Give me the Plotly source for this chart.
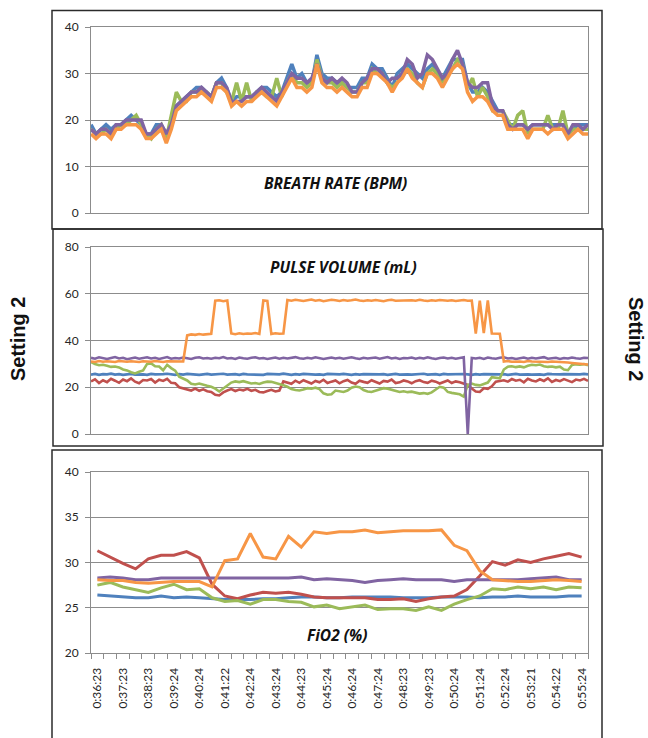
import plotly.graph_objects as go

# ---------------- Breath rate (BPM) ----------------
br_blue = [19,17,18,19,18,19,19,20,21,20,
           19,17,17,19,19,17,19,23,24,25,
           26,27,27,26,25,28,29,27,24,25,
           25,25,25,26,27,27,26,25,26,29,
           32,29,30,28,28,34,30,29,29,28,
           28,27,27,27,29,29,32,31,31,29,
           27,30,31,32,31,30,29,31,32,30,
           29,31,33,33,33,28,26,26,27,26,
           24,22,22,19,19,19,19,18,19,19,
           19,19,19,19,19,17,18,19,19,19]
br_green = [18,17,17,18,17,18,19,19,20,21,
            19,17,16,18,19,16,21,26,24,24,
            26,26,26,26,25,28,28,26,24,28,
            24,28,24,26,26,25,25,29,25,28,
            30,28,28,27,28,33,29,28,28,27,
            28,27,26,26,28,28,31,30,30,28,
            27,28,30,31,30,28,27,30,31,30,
            28,30,31,33,32,27,29,25,27,25,
            22,22,22,20,18,21,22,17,18,18,
            18,21,18,18,22,17,18,18,18,18]
br_purple = [18,17,18,18,17,19,19,20,20,20,
             20,17,17,18,19,17,19,23,24,25,
             26,26,27,26,25,28,28,27,24,24,
             24,25,25,26,27,26,25,24,26,28,
             30,29,29,28,29,32,29,28,29,28,
             29,28,26,26,28,29,31,31,30,28,
             29,29,30,33,32,29,30,34,33,31,
             29,30,33,35,32,28,27,27,28,28,
             23,22,22,19,18,19,19,18,19,19,
             19,19,18,19,19,17,19,19,18,19]
br_orange = [17,16,17,17,16,18,18,19,19,19,
             18,16,16,17,18,15,18,22,23,24,
             25,25,26,25,24,27,27,26,23,24,
             23,24,24,25,26,25,24,23,25,27,
             29,27,27,26,27,32,28,27,27,26,
             27,26,25,25,27,27,30,30,29,28,
             26,28,29,31,29,28,27,30,30,29,
             27,29,31,32,31,26,24,25,25,24,
             22,21,21,18,18,18,18,16,18,18,
             18,17,18,18,18,16,17,18,17,17]

# ---------------- Pulse volume (mL) ----------------
pv_blue = [25.4,25.7,25.3,25.6,25.5,25.8,25.4,25.6,25.3,25.5,
           25.7,25.4,25.6,25.5,25.3,25.7,25.5,25.4,25.6,25.8,
           25.5,25.3,25.6,25.4,25.7,25.5,25.6,25.3,25.5,25.7,
           25.4,25.6,25.5,25.8,25.4,25.5,25.6,25.3,25.7,25.5,
           25.4,25.6,25.5,25.3,25.7,25.6,25.4,25.5,25.8,25.5,
           25.3,25.6,25.4,25.7,25.5,25.6,25.4,25.5,25.3,25.7,
           25.6,25.4,25.5,25.7,25.5,25.3,25.6,25.4,25.6,25.5,
           25.7,25.4,25.5,25.6,25.3,25.5,25.7,25.4,25.6,25.5,
           25.4,25.6,25.5,25.8,25.4,25.5,25.6,25.3,25.7,25.5,
           25.6,25.4,25.5,25.7,25.5,25.3,25.6,25.4,25.6,25.5,
           25.7,25.4,25.5,25.6,25.3,25.5,25.7,25.4,25.6,25.5,
           25.4,25.6,25.5,25.3,25.7,25.6,25.4,25.5,25.6,25.5,
           25.4,25.6,25.5,25.7,25.5]
pv_red = [22.5,23.4,21.8,23.0,22.2,23.6,22.8,21.9,23.3,22.6,
          23.8,22.4,21.7,23.1,22.9,23.5,22.0,23.2,22.7,23.6,
          21.9,21.7,20.0,19.6,19.2,18.6,19.4,18.5,19.1,18.3,
          18.0,16.8,16.5,17.8,18.6,19.2,18.4,19.0,18.7,19.3,
          18.5,18.9,18.0,17.8,18.4,18.9,18.2,18.6,22.5,22.0,
          21.5,22.8,21.9,23.0,22.3,21.6,22.7,22.1,23.2,21.8,
          22.4,22.9,21.7,22.6,23.1,22.0,21.5,22.8,22.3,21.9,
          23.0,22.2,21.6,22.7,22.4,23.3,21.8,22.1,22.9,22.5,
          21.7,22.6,23.0,22.2,21.9,22.8,22.4,21.6,22.3,22.9,
          21.8,22.5,22.1,21.6,21.0,19.5,18.2,18.0,19.6,19.3,
          20.4,22.4,22.6,23.0,22.4,23.5,22.8,23.2,22.1,23.6,
          22.9,22.5,23.4,22.7,23.8,22.3,23.1,22.6,23.5,22.8,
          22.2,23.3,22.9,23.6,22.7]
pv_green = [30.8,29.9,29.4,29.6,29.2,28.7,28.9,28.5,27.6,27.2,
            26.4,25.9,26.6,27.2,30.0,30.2,29.0,28.9,27.3,29.6,
            28.2,27.1,24.5,23.6,22.9,21.5,21.2,21.6,21.0,20.6,
            20.2,19.4,18.2,19.6,20.6,22.0,22.5,22.2,22.6,22.1,
            21.6,21.8,21.4,22.0,22.4,22.3,21.9,21.2,20.9,20.2,
            19.2,18.8,18.6,19.0,19.6,19.4,19.8,19.2,17.4,16.8,
            17.0,18.6,18.4,18.0,18.6,19.8,20.3,20.0,18.8,18.2,
            18.0,18.5,19.2,19.6,19.4,19.0,18.4,18.0,18.3,17.9,
            18.1,17.6,17.3,17.5,17.2,17.8,19.0,20.2,19.8,18.0,
            17.6,17.3,17.0,16.0,21.0,21.6,21.0,20.8,21.5,22.0,
            24.3,24.0,23.8,27.6,28.8,29.0,28.6,28.9,28.5,29.2,
            29.6,29.4,29.7,29.0,28.7,28.9,28.5,28.8,27.6,27.3,
            29.5,29.8,29.6,29.9,29.4]
pv_purple = [32.6,32.2,32.8,32.4,32.1,32.5,32.9,32.3,32.6,32.0,
             32.4,32.7,32.2,32.5,32.8,32.3,32.6,32.1,32.4,32.9,
             32.2,32.5,32.3,32.7,32.4,32.1,32.6,32.8,32.3,32.5,
             32.2,32.6,32.4,32.9,32.3,32.5,32.1,32.7,32.4,32.2,
             32.6,32.8,32.3,32.5,32.1,32.4,32.7,32.2,32.6,32.3,
             32.5,32.9,32.4,32.2,32.6,32.3,32.8,32.5,32.1,32.4,
             32.7,32.3,32.6,32.2,32.5,32.8,32.4,32.1,32.6,32.3,
             32.5,32.7,32.2,32.4,32.9,32.3,32.6,32.1,32.5,32.4,
             32.7,32.2,32.6,32.3,32.8,32.4,32.1,32.5,32.7,32.3,
             32.6,32.2,32.4,32.8,0.0,32.5,32.3,32.6,32.1,32.7,
             32.4,32.2,32.6,32.8,32.3,32.5,32.1,32.4,32.7,32.2,
             32.6,32.3,32.5,32.9,32.2,32.4,32.6,32.1,32.5,32.3,
             32.7,32.4,32.2,32.6,32.5]
pv_orange = [31.0,30.8,31.2,30.9,31.1,31.0,30.8,31.2,31.0,30.9,
             31.1,31.0,30.8,31.1,31.0,30.9,31.2,31.0,30.8,31.1,
             31.0,30.9,31.1,31.0,42.2,42.6,42.4,42.8,42.5,42.7,
             42.9,57.0,57.2,56.8,57.1,43.0,42.7,43.1,42.8,43.0,
             42.9,43.2,42.8,57.1,56.9,42.8,43.1,42.9,43.0,57.3,
             57.0,57.4,57.1,56.9,57.2,57.5,57.0,57.3,56.8,57.1,
             57.4,57.2,56.9,57.3,57.0,57.2,57.5,57.1,56.9,57.2,
             57.0,57.3,57.1,56.8,57.2,57.4,57.0,57.1,56.9,57.3,
             57.2,57.0,57.4,57.1,56.9,57.2,57.0,57.3,57.1,57.0,
             57.2,56.9,57.1,57.3,57.0,57.1,43.0,57.0,43.2,57.1,
             43.0,43.1,42.9,31.0,31.2,30.9,31.1,31.0,30.8,31.2,
             31.0,30.9,31.1,31.0,30.8,31.0,30.9,31.1,30.8,30.6,
             30.4,30.2,30.0,29.8,29.7]

# ---------------- FiO2 (%) ----------------
fio2_ticklabels = ["0:36:23", "0:37:23", "0:38:23", "0:39:24", "0:40:24",
                   "0:41:22", "0:42:24", "0:43:24", "0:44:23", "0:45:24",
                   "0:46:24", "0:47:24", "0:48:23", "0:49:23", "0:50:24",
                   "0:51:24", "0:52:24", "0:53:21", "0:54:22", "0:55:24"]
fio2_blue = [26.4,26.3,26.2,26.1,26.1,26.3,26.1,26.2,26.1,26.0,
             25.9,25.9,25.9,26.0,26.0,26.1,26.2,26.2,26.1,26.1,
             26.2,26.2,26.2,26.2,26.1,26.1,26.1,26.2,26.2,26.2,
             26.1,26.2,26.2,26.3,26.2,26.2,26.2,26.3,26.3]
fio2_red = [31.3,30.6,29.9,29.3,30.4,30.8,30.8,31.2,30.5,27.6,
            26.3,26.0,26.4,26.7,26.6,26.7,26.5,26.2,26.1,26.1,
            26.1,26.1,25.9,25.9,26.0,25.7,26.0,26.2,26.3,27.0,
            28.5,30.1,29.7,30.3,30.0,30.4,30.7,31.0,30.6]
fio2_green = [27.5,27.8,27.3,27.0,26.7,27.2,27.6,27.0,27.1,26.1,
              25.7,25.8,25.4,25.9,25.9,25.7,25.6,25.1,25.3,24.9,
              25.1,25.3,24.8,24.9,24.9,24.7,25.1,24.7,25.4,25.9,
              26.3,27.1,27.0,27.3,27.1,27.3,27.0,27.3,27.2]
fio2_purple = [28.3,28.4,28.3,28.1,28.1,28.3,28.3,28.3,28.3,28.3,
               28.3,28.3,28.3,28.3,28.3,28.3,28.4,28.1,28.2,28.1,
               28.0,27.8,28.0,28.1,28.2,28.1,28.1,28.1,27.9,28.1,
               28.1,28.1,28.1,28.1,28.2,28.3,28.4,28.1,28.1]
fio2_orange = [28.1,28.0,28.0,27.8,27.7,27.8,27.9,27.9,27.9,27.3,
               30.2,30.4,33.2,30.6,30.4,32.9,31.7,33.4,33.2,33.4,
               33.4,33.6,33.3,33.4,33.5,33.5,33.5,33.6,31.9,31.3,
               29.1,28.1,28.0,27.9,27.9,28.0,28.1,28.0,27.9]

COLORS = {"blue": "#4F81BD", "red": "#C0504D", "green": "#9BBB59",
          "purple": "#8064A2", "orange": "#F79646"}

W, H = 648, 738
def px(x):
    return x / W
def py(y):
    return 1 - y / H

fig = go.Figure()

def add_lines(series, xaxis, yaxis, width):
    for name, values in series:
        fig.add_trace(go.Scatter(
            x=list(range(len(values))), y=values, mode="lines",
            line=dict(color=COLORS[name], width=width),
            xaxis=xaxis, yaxis=yaxis, showlegend=False, hoverinfo="skip"))

add_lines([("blue", br_blue), ("green", br_green), ("purple", br_purple),
           ("orange", br_orange)], "x", "y", 3.5)
add_lines([("blue", pv_blue), ("red", pv_red), ("green", pv_green),
           ("purple", pv_purple), ("orange", pv_orange)], "x2", "y2", 2.6)
add_lines([("blue", fio2_blue), ("red", fio2_red), ("green", fio2_green),
           ("purple", fio2_purple), ("orange", fio2_orange)], "x3", "y3", 3.0)

GRID = "#8C8C8C"
TICKFONT = dict(family="Lato, Open Sans, sans-serif", size=12, color="#262626")
X0, X1 = px(91), px(588)

def yaxis(dom, rng, dtick):
    return dict(domain=dom, range=rng, dtick=dtick, tick0=rng[0],
                showgrid=True, gridcolor=GRID, gridwidth=1, zeroline=False,
                showline=True, linecolor=GRID, linewidth=1, mirror=True,
                ticks="outside", ticklen=5, tickcolor=GRID,
                tickfont=TICKFONT, ticklabelstandoff=4, fixedrange=True,
                automargin=False)

def plain_x(n, anchor):
    return dict(domain=[X0, X1], range=[0, n - 1], anchor=anchor,
                showgrid=False, zeroline=False, showticklabels=False,
                showline=True, linecolor=GRID, linewidth=1, mirror=True,
                ticks="", fixedrange=True, automargin=False)

n3 = len(fio2_blue)
fig.update_layout(
    width=W, height=H, margin=dict(l=0, r=0, t=0, b=0, pad=0),
    autosize=False,
    paper_bgcolor="white", plot_bgcolor="white", showlegend=False,
    xaxis=plain_x(len(br_orange), "y"),
    xaxis2=plain_x(len(pv_orange), "y2"),
    xaxis3=dict(domain=[X0, X1], range=[-0.5, n3 - 0.5], anchor="y3",
                showgrid=False, zeroline=False,
                showline=True, linecolor=GRID, linewidth=1, mirror=True,
                tickmode="array", tickvals=list(range(0, n3, 2)),
                ticktext=fio2_ticklabels, tickangle=-90, ticks="",
                tickfont=TICKFONT, ticklabelstandoff=9,
                minor=dict(tickmode="array",
                           tickvals=[i - 0.5 for i in range(n3 + 1)],
                           ticks="outside", ticklen=5, tickcolor=GRID),
                fixedrange=True, automargin=False),
    yaxis=yaxis([py(213), py(27)], [0, 40], 10),
    yaxis2=yaxis([py(434), py(247)], [0, 80], 20),
    yaxis3=yaxis([py(653), py(472)], [20, 40], 5),
)

# chart-area frames around each panel
BORDER = "#2b2b2b"
for x0, x1, y0, y1 in [(52, 602, 10.5, 229), (53, 603, 229, 446), (52, 602, 450, 760)]:
    fig.add_shape(type="rect", xref="paper", yref="paper",
                  x0=px(x0), x1=px(x1), y0=py(y1), y1=py(y0),
                  line=dict(color=BORDER, width=1.5), fillcolor="rgba(0,0,0,0)",
                  layer="above")

TITLEFONT = dict(family="Open Sans, Lato, sans-serif", size=15.5, color="#111111")
for text, xc, yc in [("<b><i>BREATH RATE (BPM)</i></b>", 335, 183),
                     ("<b><i>PULSE VOLUME (mL)</i></b>", 343, 267),
                     ("<b><i>FiO2 (%)</i></b>", 337, 635)]:
    fig.add_annotation(text=text, xref="paper", yref="paper", x=px(xc), y=py(yc),
                       xanchor="center", yanchor="middle", showarrow=False,
                       font=TITLEFONT)

SIDEFONT = dict(family="Liberation Sans, Arial, sans-serif", size=20, color="#111111")
fig.add_annotation(text="<b>Setting 2</b>", xref="paper", yref="paper",
                   x=px(18), y=py(339), textangle=-90, showarrow=False,
                   xanchor="center", yanchor="middle", font=SIDEFONT)
fig.add_annotation(text="<b>Setting 2</b>", xref="paper", yref="paper",
                   x=px(636), y=py(339), textangle=90, showarrow=False,
                   xanchor="center", yanchor="middle", font=SIDEFONT)

# page body without the browser's default margin
fig.write_html("out.html", post_script="document.body.style.margin='0';")
